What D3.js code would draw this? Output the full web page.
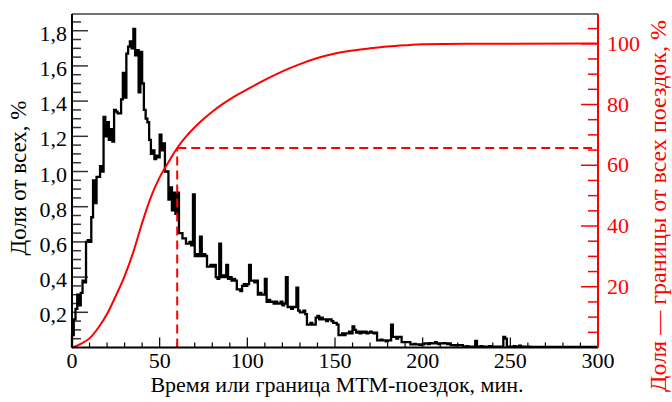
<html>

<head>
    <meta charset="utf-8">
    <script src="https://cdn.jsdelivr.net/npm/d3@7"></script>
    <style>
        body { margin: 0; background: #fff; }
        text { font-family: "Liberation Serif", "DejaVu Serif", serif; }
    </style>
</head>

<body>
    <script>
        // share of all trips per 1-minute bin, %
        var shareValues = [
            0.07, 0.16, 0.22, 0.30, 0.24, 0.31, 0.38, 0.37, 0.60, 0.61,
            0.60, 0.74, 0.95, 0.82, 0.97, 0.97, 1.03, 1.00, 1.31, 1.20,
            1.28, 1.18, 1.24, 1.17, 1.35, 1.34, 1.33, 1.33, 1.41, 1.56,
            1.42, 1.67, 1.71, 1.74, 1.70, 1.81, 1.66, 1.69, 1.45, 1.68,
            1.50, 1.35, 1.30, 1.28, 1.18, 1.10, 1.12, 1.07, 1.09, 1.08,
            1.21, 1.12, 1.16, 1.00, 1.00, 0.84, 0.91, 0.78, 0.88, 0.76,
            0.88, 0.65, 0.65, 0.62, 0.62, 0.59, 0.59, 0.60, 0.58, 0.87,
            0.52, 0.53, 0.52, 0.63, 0.52, 0.53, 0.52, 0.46, 0.46, 0.47,
            0.46, 0.47, 0.40, 0.39, 0.59, 0.40, 0.41, 0.40, 0.47, 0.39,
            0.40, 0.38, 0.39, 0.38, 0.33, 0.33, 0.32, 0.35, 0.36, 0.35,
            0.36, 0.47, 0.38, 0.38, 0.37, 0.38, 0.30, 0.31, 0.30, 0.30,
            0.39, 0.26, 0.27, 0.26, 0.26, 0.25, 0.26, 0.25, 0.25, 0.26,
            0.24, 0.25, 0.40, 0.23, 0.23, 0.22, 0.23, 0.23, 0.34, 0.21,
            0.20, 0.20, 0.21, 0.19, 0.13, 0.13, 0.14, 0.13, 0.13, 0.17,
            0.18, 0.16, 0.17, 0.16, 0.16, 0.15, 0.16, 0.16, 0.15, 0.14,
            0.14, 0.13, 0.07, 0.07, 0.08, 0.07, 0.08, 0.08, 0.09, 0.08,
            0.12, 0.10, 0.085, 0.09, 0.08, 0.09, 0.085, 0.09, 0.08, 0.085,
            0.09, 0.085, 0.08, 0.085, 0.04, 0.04, 0.045, 0.04, 0.04, 0.035,
            0.04, 0.04, 0.13, 0.06, 0.06, 0.05, 0.06, 0.06, 0.03, 0.03,
            0.03, 0.03, 0.03, 0.018, 0.018, 0.02, 0.018, 0.018, 0.015, 0.018,
            0.018, 0.024, 0.024, 0.02, 0.025, 0.024, 0.024, 0.03, 0.024, 0.02,
            0.024, 0.024, 0.025, 0.024, 0.02, 0.024, 0.014, 0.014, 0.012, 0.014,
            0.014, 0.014, 0.014, 0.005, 0.005, 0.008, 0.005, 0.005, 0.005, 0.005,
            0.037, 0.005, 0.005, 0.008, 0.005, 0.005, 0.005, 0.005, 0.008, 0.005,
            0.005, 0.005, 0.005, 0.005, 0.005, 0.005, 0.06, 0.05, 0.005, 0.005,
            0.005, 0.005, 0.008, 0.005, 0.005, 0.01, 0.005, 0.005, 0.005, 0.005,
            0.005, 0.003, 0.003, 0.003, 0.003, 0.003, 0.003, 0.003, 0.003, 0.003,
            0.003, 0.003, 0.003, 0.003, 0.003, 0.003, 0.003, 0.003, 0.003, 0.003,
            0.003, 0.003, 0.003, 0.003, 0.003, 0.003, 0.003, 0.003, 0.003, 0.003,
            0.003, 0.003, 0.003, 0.003, 0.003, 0.003, 0.003, 0.003, 0.003, 0.003
        ];

        // cumulative share (trips up to the boundary), %
        var cumMinutes = [0, 5, 10, 15, 20, 25, 30, 35, 40, 45, 50, 55, 60, 65, 70, 75, 80, 85, 90, 95,
            100, 110, 120, 130, 140, 150, 160, 170, 180, 190, 200, 225, 250, 300];
        var cumShare = [0, 1.2, 3, 6.5, 11, 17, 23.5, 31.5, 41, 49.5, 56, 61, 65.7, 69.4, 72.5, 75.2, 77.6, 79.8, 81.7, 83.4,
            85, 88.1, 90.9, 93.3, 95.3, 96.8, 97.8, 98.5, 99.1, 99.5, 99.8, 100, 100, 100.1];

        var thresholdMinute = 60,
            thresholdShare = 65.7;

        var xTicks = [0, 50, 100, 150, 200, 250, 300];
        var leftTicks = [0.2, 0.4, 0.6, 0.8, 1.0, 1.2, 1.4, 1.6, 1.8];
        var rightTicks = [20, 40, 60, 80, 100];

        var w = 672, h = 402;
        var mLeft = 72, mRight = 598, mTop = 14, mBottom = 347.5;
        var red = "#ff0000";

        var x = d3.scaleLinear().domain([0, 300]).range([mLeft, mRight]);
        var yL = d3.scaleLinear().domain([0, 1.895]).range([mBottom, mTop]);
        var yR = d3.scaleLinear().domain([0, 109.8]).range([mBottom, mTop]);

        var svg = d3.select("body").append("svg")
            .attr("width", w)
            .attr("height", h);

        var fmt = function (d) { return d3.format(".1f")(d).replace(".", ","); };

        // ticks (inside the frame)
        var g = svg.append("g");
        g.selectAll(".xm").data(d3.range(0, 301, 10)).enter().append("line")
            .attr("x1", function (d) { return x(d); }).attr("x2", function (d) { return x(d); })
            .attr("y1", mBottom).attr("y2", function (d) { return d % 50 === 0 ? mBottom - 10 : mBottom - 5; })
            .style("stroke", "#000").style("stroke-width", 1.2);

        g.selectAll(".ym").data(d3.range(1, 38)).enter().append("line")
            .attr("x1", mLeft).attr("x2", function (d) { return d % 4 === 0 ? mLeft + 16 : mLeft + 9; })
            .attr("y1", function (d) { return yL(d * 0.05); }).attr("y2", function (d) { return yL(d * 0.05); })
            .style("stroke", "#333").style("stroke-width", 1.5);

        g.selectAll(".rm").data(d3.range(1, 22)).enter().append("line")
            .attr("x1", mRight).attr("x2", function (d) { return d % 4 === 0 ? mRight - 17 : mRight - 10; })
            .attr("y1", function (d) { return yR(d * 5); }).attr("y2", function (d) { return yR(d * 5); })
            .style("stroke", red).style("stroke-width", 1.5);

        // tick labels
        svg.selectAll(".xl").data(xTicks).enter().append("text")
            .attr("x", function (d) { return x(d); }).attr("y", 368)
            .attr("text-anchor", "middle").style("font-size", "22px")
            .text(function (d) { return d; });

        svg.selectAll(".yl").data(leftTicks).enter().append("text")
            .attr("x", mLeft - 5).attr("y", function (d) { return yL(d) + 10; })
            .attr("text-anchor", "end").style("font-size", "22px")
            .text(fmt);

        svg.selectAll(".rl").data(rightTicks).enter().append("text")
            .attr("x", mRight + 9).attr("y", function (d) { return yR(d) + 7; })
            .style("font-size", "22px").style("fill", red)
            .text(function (d) { return d; });

        // axis titles
        svg.append("text")
            .attr("transform", "translate(26,178) rotate(-90)")
            .attr("text-anchor", "middle").style("font-size", "23px")
            .text("Доля от всех, %");

        svg.append("text")
            .attr("transform", "translate(666,206) rotate(-90)")
            .attr("text-anchor", "middle").style("font-size", "24px").style("fill", red)
            .text("Доля — границы от всех поездок, %");

        svg.append("text")
            .attr("x", (mLeft + mRight) / 2 + 2).attr("y", 392)
            .attr("text-anchor", "middle").style("font-size", "22px")
            .text("Время или граница МТМ-поездок, мин.");

        // histogram
        var histPts = shareValues.map(function (v, i) { return [i, v]; });
        histPts.unshift([0, 0]);
        histPts.push([300, shareValues[shareValues.length - 1]]);

        var histLine = d3.line()
            .x(function (d) { return x(d[0]); })
            .y(function (d) { return yL(d[1]); })
            .curve(d3.curveStepAfter);

        svg.append("path").datum(histPts)
            .attr("d", histLine)
            .style("fill", "none").style("stroke", "#000").style("stroke-width", 2.3)
            .style("stroke-linejoin", "miter");

        // cumulative curve
        var cumLine = d3.line()
            .x(function (d, i) { return x(cumMinutes[i]); })
            .y(function (d) { return yR(d); })
            .curve(d3.curveMonotoneX);

        svg.append("path").datum(cumShare)
            .attr("d", cumLine)
            .style("fill", "none").style("stroke", red).style("stroke-width", 2);

        // threshold dashes
        svg.append("line")
            .attr("x1", x(thresholdMinute)).attr("x2", x(thresholdMinute))
            .attr("y1", mBottom).attr("y2", yR(thresholdShare))
            .style("stroke", red).style("stroke-width", 2).style("stroke-dasharray", "9,5");
        svg.append("line")
            .attr("x1", x(thresholdMinute)).attr("x2", mRight)
            .attr("y1", yR(thresholdShare)).attr("y2", yR(thresholdShare))
            .style("stroke", red).style("stroke-width", 2).style("stroke-dasharray", "9,5");

        // frame
        svg.append("line").attr("x1", mLeft).attr("x2", mRight).attr("y1", mTop).attr("y2", mTop)
            .style("stroke", "#444").style("stroke-width", 1.5);
        svg.append("line").attr("x1", mLeft).attr("x2", mLeft).attr("y1", mTop).attr("y2", mBottom)
            .style("stroke", "#000").style("stroke-width", 2);
        svg.append("line").attr("x1", mLeft).attr("x2", mRight).attr("y1", mBottom).attr("y2", mBottom)
            .style("stroke", "#000").style("stroke-width", 2);
        svg.append("line").attr("x1", mRight).attr("x2", mRight).attr("y1", mTop).attr("y2", mBottom)
            .style("stroke", red).style("stroke-width", 2);
    </script>
</body>

</html>
